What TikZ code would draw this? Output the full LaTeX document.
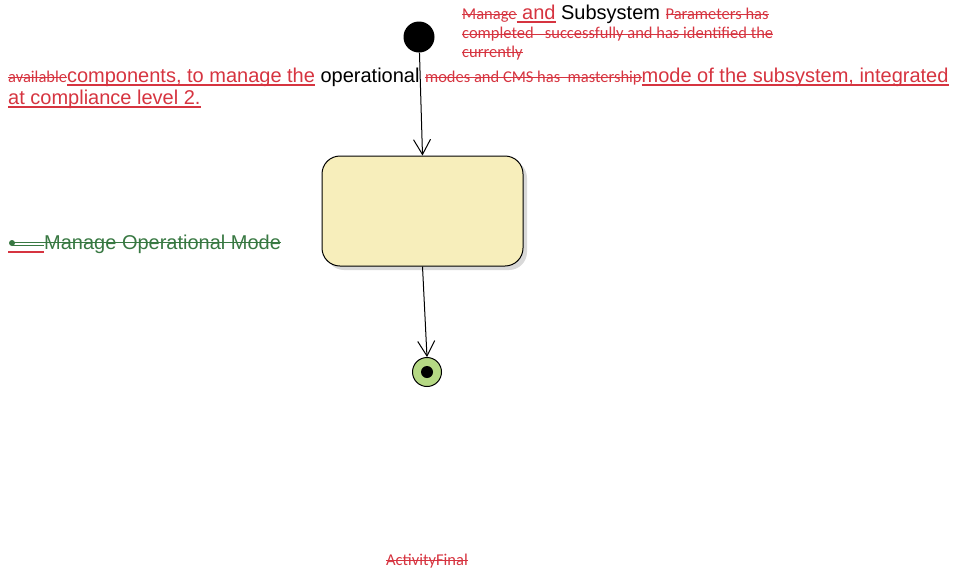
\documentclass[tikz,border=0pt]{standalone}
\usepackage{fontspec}
\setmainfont{Liberation Sans}
\newfontfamily\calfont{Carlito}
\usetikzlibrary{positioning,arrows.meta,shadows}

\definecolor{delred}{RGB}{214,52,64}
\definecolor{statefill}{RGB}{247,238,187}
\definecolor{finalfill}{RGB}{181,216,132}
\definecolor{modegreen}{RGB}{56,120,66}

% struck-out small text and underlined inserted text
\newcommand{\deltext}[1]{{\calfont\fontsize{16.5}{19}\selectfont\color{delred}%
  \setbox0\hbox{#1}\rlap{\rule[3.6pt]{\wd0}{1pt}}\box0}}
\newcommand{\instext}[1]{{\color{delred}%
  \setbox0\hbox{#1}\rlap{\rule[-4pt]{\wd0}{1.8pt}}\box0}}
\newcommand{\striketext}[1]{\setbox0\hbox{#1}\rlap{\rule[5.8pt]{\wd0}{1.1pt}}\box0}

\tikzset{
  txt/.style={inner sep=0pt, anchor=base west, font=\fontsize{20}{24}\selectfont},
  flow/.style={-{Straight Barb[length=15pt,width=17pt]}, line width=1pt},
  initial/.style={circle, fill=black, minimum size=31pt, inner sep=0pt},
  statebox/.style={rounded corners=18pt, draw=black, line width=1pt, fill=statefill,
    minimum width=201pt, minimum height=110pt,
    drop shadow={shadow xshift=4pt, shadow yshift=-4pt, fill=black!15, opacity=1}},
  final/.style={circle, draw=black, line width=1pt, fill=finalfill, minimum size=29pt, inner sep=0pt},
}

\begin{document}
\begin{tikzpicture}[x=1pt,y=-1pt]
  \useasboundingbox (0,0) rectangle (955,571);

  % nodes
  \node[initial] (start) at (419,37) {};
  \node[statebox] (mode) at (422.5,211) {};
  \node[final] (stop) at (427,372) {};
  \fill (stop) circle (6pt);

  % connectors
  \draw[flow] (start) -- (mode.north);
  \draw[flow] (mode.south) -- (stop.north);

  % description text
  \node[txt] (line1) at (462,19) {\deltext{Manage}\instext{ and} Subsystem \deltext{Parameters has}};
  \node[txt] (line2) at (462,38.5) {\deltext{completed\ \ \ successfully and has identified the}};
  \node[txt] (line3) at (462,57) {\deltext{currently}};
  \node[txt] (line4) at (8,82) {\deltext{available}\instext{components, to manage the} operational \deltext{modes and CMS has\ \ mastership}\instext{mode of the subsystem, integrated}};
  \node[txt] (line5) at (8,104) {\instext{at compliance level 2.}};

  % mode name
  \node[txt, text=modegreen] (modename) at (44,249) {\striketext{Manage Operational Mode}};
  \fill[modegreen] (12,243) circle (3pt);
  \draw[modegreen, line width=1pt] (12,242) -- (modename.base west |- 0,242);
  \draw[modegreen, line width=1pt] (12,245) -- (modename.base west |- 0,245);
  \draw[delred, line width=1.5pt] (8,252) -- (modename.base west |- 0,252);

  % final label
  \node[txt, anchor=base] (finallabel) at (427,565) {\deltext{ActivityFinal}};
\end{tikzpicture}
\end{document}
